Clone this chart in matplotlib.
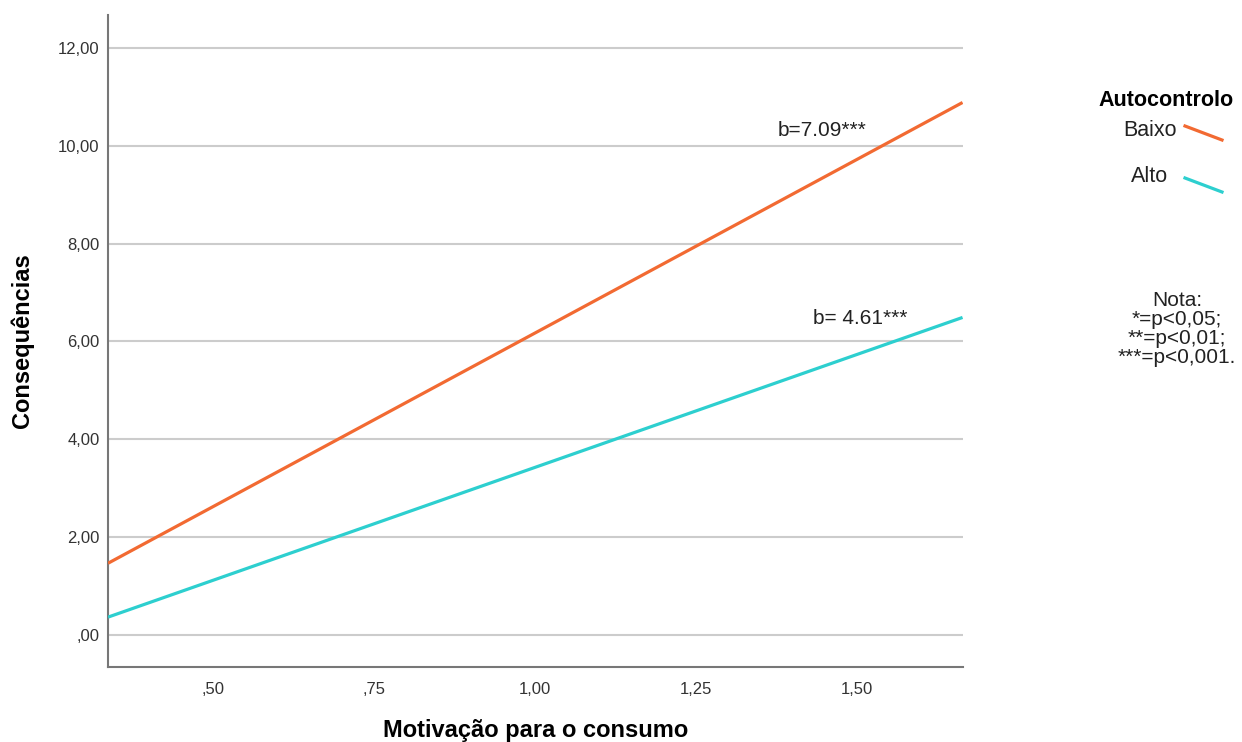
import matplotlib
matplotlib.use("Agg")
import matplotlib.pyplot as plt
from matplotlib.lines import Line2D

plt.rcParams['font.family'] = ['Liberation Sans', 'DejaVu Sans']

# data (line endpoints at the axis edges)
x_vals = [0.337, 1.665]
baixo = [1.47, 10.88]
alto = [0.37, 6.49]
x_ticks = [0.5, 0.75, 1.0, 1.25, 1.5]
x_labels = [",50", ",75", "1,00", "1,25", "1,50"]
y_ticks = [0, 2, 4, 6, 8, 10, 12]
y_labels = [",00", "2,00", "4,00", "6,00", "8,00", "10,00", "12,00"]
orange = "#F26A32"
cyan = "#2DCFCF"

fig = plt.figure(figsize=(12.42, 7.42), dpi=100)
ax = fig.add_axes([0.087, 0.101, 0.688, 0.879])

ax.plot(x_vals, baixo, color=orange, lw=2.3, solid_capstyle='butt', zorder=3)
ax.plot(x_vals, alto, color=cyan, lw=2.3, solid_capstyle='butt', zorder=3)

ax.set_xlim(0.337, 1.665)
ax.set_ylim(-0.65, 12.67)
ax.set_xticks(x_ticks)
ax.set_xticklabels(x_labels)
ax.set_yticks(y_ticks)
ax.set_yticklabels(y_labels)
ax.tick_params(length=0, labelsize=12, colors='#333333', pad=6)
ax.tick_params(axis='x', pad=11)
ax.grid(axis='y', color='#cccccc', lw=1.5)
for s in ['top', 'right']:
    ax.spines[s].set_visible(False)
for s in ['left', 'bottom']:
    ax.spines[s].set_color('#777777')
    ax.spines[s].set_linewidth(1.5)

ax.set_xlabel("Motivação para o consumo", fontsize=17, fontweight='bold', va='center')
ax.xaxis.set_label_coords(0.5, -0.0966)
ax.set_ylabel("Consequências", fontsize=17, fontweight='bold', va='center')
ax.yaxis.set_label_coords(-0.1006, 0.5)

ax.text(1.446, 10.3, "b=7.09***", fontsize=15, ha='center', va='center', color='#222222')
ax.text(1.506, 6.47, "b= 4.61***", fontsize=15, ha='center', va='center', color='#222222')

# legend drawn by hand to match the diagonal swatches
fig.text(1166 / 1242, 1 - 100 / 742, "Autocontrolo", fontsize=15.5, fontweight='bold', ha='center', va='center')
fig.text(1177 / 1242, 1 - 130 / 742, "Baixo", fontsize=15.5, ha='right', va='center', color='#222222')
fig.text(1168 / 1242, 1 - 177 / 742, "Alto", fontsize=15.5, ha='right', va='center', color='#222222')
fig.add_artist(Line2D([1185 / 1242, 1222 / 1242], [1 - 126 / 742, 1 - 140 / 742], color=orange, lw=2.3))
fig.add_artist(Line2D([1185 / 1242, 1222 / 1242], [1 - 178 / 742, 1 - 192 / 742], color=cyan, lw=2.3))

fig.text(1177 / 1242, 1 - 329 / 742, "Nota:\n*=p<0,05;\n**=p<0,01;\n***=p<0,001.",
         fontsize=15, ha='center', va='center', linespacing=1.0, color='#222222')

fig.savefig("out.png", dpi=100)
